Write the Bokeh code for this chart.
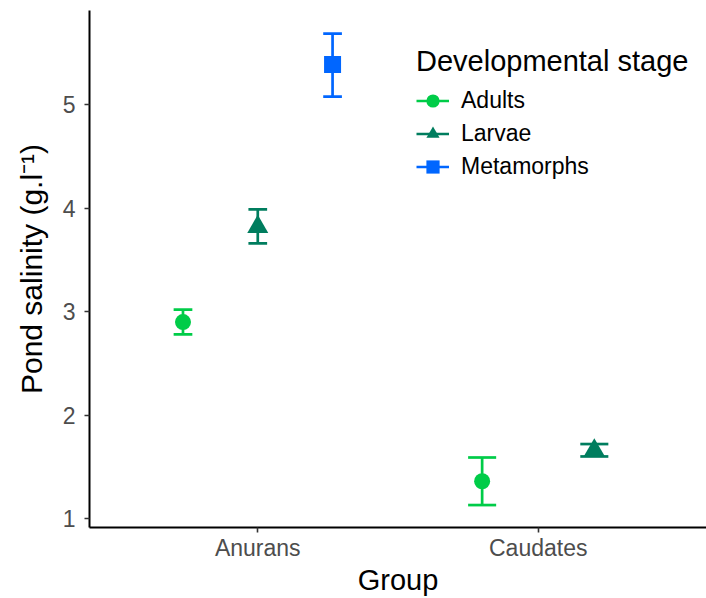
import numpy as np
from bokeh.plotting import figure
from bokeh.models import ColumnDataSource, Legend, LegendItem, FixedTicker
from bokeh.embed import file_html
from bokeh.resources import INLINE

# ---- data ----
group_names = ["Anurans", "Caudates"]
stage_names = ["Adults", "Larvae", "Metamorphs"]
groups = ["Anurans", "Anurans", "Anurans", "Caudates", "Caudates"]
stages = ["Adults", "Larvae", "Metamorphs", "Adults", "Larvae"]
means = [2.90, 3.82, 5.39, 1.36, 1.66]
lower = [2.78, 3.66, 5.08, 1.13, 1.60]
upper = [3.02, 3.99, 5.69, 1.59, 1.72]
y_ticks = [1, 2, 3, 4, 5]

colors = {"Adults": "#00CC48", "Larvae": "#007D5E", "Metamorphs": "#0066FF"}
markers = {"Adults": "circle", "Larvae": "triangle", "Metamorphs": "square"}
sizes = {"Adults": 16, "Larvae": 21, "Metamorphs": 17}

# ---- dodge positions (position_dodge width 0.8, errorbar width 0.2) ----
DODGE = 0.8
EBW = 0.2
xs, hw = [], []
for g, s in zip(groups, stages):
    members = [st for gg, st in zip(groups, stages) if gg == g]
    n = len(members)
    i = members.index(s)
    base = group_names.index(g) + 1
    xs.append(base + (i - (n - 1) / 2) * DODGE / n)
    hw.append(EBW / n / 2)

df = dict(x=xs, hw=hw, mean=means, lo=lower, hi=upper, stage=stages, group=groups)

FONT = "Liberation Sans"

p = figure(width=706, height=598, output_backend="svg", toolbar_location=None,
           x_range=(0.4, 2.6), y_range=(0.913, 5.913),
           min_border_left=89, min_border_top=10, min_border_bottom=71, min_border_right=0)
p.background_fill_color = "white"
p.border_fill_color = "white"
p.outline_line_color = None
p.xgrid.visible = False
p.ygrid.visible = False

items = []
for st in stage_names:
    idx = [k for k, s in enumerate(stages) if s == st]
    src = ColumnDataSource({k: [v[j] for j in idx] for k, v in df.items()})
    src.data["x0"] = [a - b for a, b in zip(src.data["x"], src.data["hw"])]
    src.data["x1"] = [a + b for a, b in zip(src.data["x"], src.data["hw"])]
    c = colors[st]
    stem = p.segment(x0="x", y0="lo", x1="x", y1="hi", source=src, line_color=c, line_width=2.7)
    p.segment(x0="x0", y0="lo", x1="x1", y1="lo", source=src, line_color=c, line_width=2.7)
    p.segment(x0="x0", y0="hi", x1="x1", y1="hi", source=src, line_color=c, line_width=2.7)
    sc = p.scatter(x="x", y="mean", source=src, marker=markers[st], size=sizes[st],
                   fill_color=c, line_color=c, line_width=0)
    items.append(LegendItem(label=st, renderers=[stem, sc]))

legend = Legend(items=items, location=(327, 344), title="Developmental stage",
                title_text_font=FONT, title_text_font_size="29px", title_text_color="black",
                title_text_font_style="normal", title_standoff=6,
                label_text_font=FONT, label_text_font_size="23px", label_text_color="black",
                glyph_width=33, glyph_height=33, label_height=33, spacing=0,
                label_standoff=12, padding=0, margin=0,
                background_fill_alpha=0, border_line_alpha=0)
p.add_layout(legend, "center")

# axes
p.xaxis.ticker = FixedTicker(ticks=[1, 2])
p.xaxis.major_label_overrides = {i + 1: g for i, g in enumerate(group_names)}
p.yaxis.ticker = FixedTicker(ticks=y_ticks)
for ax in (p.xaxis[0], p.yaxis[0]):
    ax.axis_line_color = "black"
    ax.axis_line_width = 2
    ax.major_tick_line_color = "#333333"
    ax.major_tick_line_width = 1.6
    ax.major_tick_out = 5
    ax.major_tick_in = 0
    ax.minor_tick_line_color = None
    ax.major_label_text_font = FONT
    ax.major_label_text_font_size = "23px"
    ax.major_label_text_color = "#4D4D4D"
    ax.axis_label_text_font = FONT
    ax.axis_label_text_font_style = "normal"
    ax.axis_label_text_color = "black"

p.xaxis.axis_label = "Group"
p.xaxis.axis_label_text_font_size = "29px"
p.xaxis.major_label_standoff = 2
p.xaxis.axis_label_standoff = 0
p.yaxis.axis_label = "Pond salinity (g.l⁻¹)"
p.yaxis.axis_label_text_font_size = "30px"
p.yaxis.major_label_standoff = 9
p.yaxis.axis_label_standoff = 12

open("out.html", "w").write(file_html(p, INLINE))
